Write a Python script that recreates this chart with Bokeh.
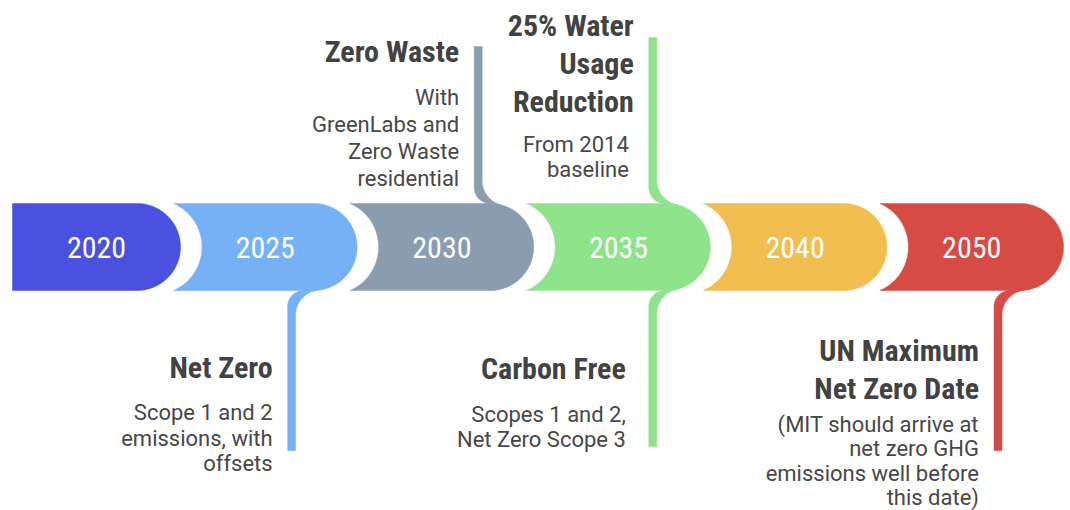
import math
from bokeh.plotting import figure
from bokeh.models import Range1d, ColumnDataSource
from bokeh.core.properties import value
from bokeh.embed import file_html
from bokeh.resources import INLINE

# ---------------- data ----------------
years = ["2020", "2025", "2030", "2035", "2040", "2050"]
band_colors = ["#4A51DF", "#76B1F6", "#8A9DB0", "#8FE38B", "#F1BE4F", "#D64C45"]

milestone_years = ["2025", "2030", "2035", "2035", "2050"]
milestone_sides = ["below", "above", "above", "below", "below"]
milestone_titles = [
    ["Net Zero"],
    ["Zero Waste"],
    ["25% Water", "Usage", "Reduction"],
    ["Carbon Free"],
    ["UN Maximum", "Net Zero Date"],
]
milestone_notes = [
    ["Scope 1 and 2", "emissions, with", "offsets"],
    ["With", "GreenLabs and", "Zero Waste", "residential"],
    ["From 2014", "baseline"],
    ["Scopes 1 and 2,", "Net Zero Scope 3"],
    ["(MIT should arrive at", "net zero GHG", "emissions well before", "this date)"],
]

# ---------------- layout (pixels of the page) ----------------
W, H = 1070, 510
BAND_TOP, BAND_BOT = 203.0, 290.0
YC = (BAND_TOP + BAND_BOT) / 2
HH = (BAND_BOT - BAND_TOP) / 2
X0, FIRST_RIGHT, PITCH = 12.0, 180.0, 176.6
OVERLAP, GAP = 7.0, 21.5
LINE_W, RO, RF = 8.0, 16.0, 25.0
TITLE_DY = 38.0
TITLE_SIZE, BODY_SIZE, YEAR_SIZE = 30, 22, 30
BASE_ADJ = 0.4   # baseline correction (fraction of font size) for the SVG text placement

# per milestone: connector offset from cap centre, line end, title baseline, note baseline,
# note spacing, title gap and note gap to the connector
ms_layout = [
    dict(dx=-22, end=450, ty=379, ny=421, ndy=25.5, gap=15, ngap=15),
    dict(dx=-12, end=46, ty=63, ny=106, ndy=27.0, gap=15, ngap=15),
    dict(dx=-14, end=37, ty=37, ny=153, ndy=25.0, gap=15, ngap=20),
    dict(dx=-14, end=446, ty=380, ny=423, ndy=25.0, gap=23, ngap=23),
    dict(dx=-22, end=450, ty=361.7, ny=432.5, ndy=24.4, gap=15, ngap=15),
]

COND = "Roboto Condensed, Fira Sans Condensed, Liberation Sans Narrow, DejaVu Sans Condensed, Roboto"
BODY = "Roboto"

p = figure(width=W, height=H, x_range=Range1d(0, W), y_range=Range1d(H, 0),
           output_backend="svg", toolbar_location=None, min_border=0,
           x_axis_location=None, y_axis_location=None)
p.grid.visible = False
p.outline_line_color = None
p.background_fill_color = "white"
p.border_fill_color = "white"


def arc(cx, cy, r, a0, a1, n=48):
    return [(cx + r * math.cos(a0 + (a1 - a0) * k / n),
             cy + r * math.sin(a0 + (a1 - a0) * k / n)) for k in range(n + 1)]


n = len(years)
rights = [FIRST_RIGHT + i * PITCH for i in range(n)]
lefts = [X0] + [r - OVERLAP for r in rights[:-1]]

seg_xs, seg_ys = [], []
for i in range(n):
    L, R = lefts[i], rights[i]
    rc = R - HH
    pts = []
    if i == 0:
        pts += [(L, BAND_BOT), (L, BAND_TOP)]
    else:
        d = rights[i - 1] + GAP - L
        rho = (d * d + HH * HH) / (2 * d)
        cx = rights[i - 1] + GAP - rho
        ab = math.atan2(HH, L - cx)
        pts += arc(cx, YC, rho, ab, -ab)
    pts += [(rc, BAND_TOP)]
    pts += arc(rc, YC, HH, -math.pi / 2, math.pi / 2)
    seg_xs.append([q[0] for q in pts])
    seg_ys.append([q[1] for q in pts])

p.patches(seg_xs, seg_ys, fill_color=band_colors, line_color=band_colors, line_width=0.5)

# connectors
con_xs, con_ys, con_cols = [], [], []
t_x, t_y, t_s = [], [], []
n_x, n_y, n_s = [], [], []
for m in range(len(milestone_years)):
    seg = years.index(milestone_years[m])
    lay = ms_layout[m]
    below = milestone_sides[m] == "below"
    sgn = 1 if below else -1
    rc = rights[seg] - HH
    xc = rc + lay["dx"]
    xw, xe = xc - LINE_W / 2, xc + LINE_W / 2
    edge = BAND_BOT if below else BAND_TOP
    cxo, cyo = xw + RO, edge + sgn * RO
    west = arc(cxo, cyo, RO, math.pi, math.pi + sgn * math.pi / 2)
    cxf = xe + RF
    dist = RF + HH
    cyf = YC + sgn * math.sqrt(dist ** 2 - (cxf - rc) ** 2)
    ux, uy = (rc - cxf) / dist, (YC - cyf) / dist
    T = (cxf + RF * ux, cyf + RF * uy)
    Tin = (T[0] + 6 * ux, T[1] + 6 * uy)
    a0 = math.atan2(uy, ux)
    a1 = math.pi if a0 > 0 else -math.pi
    fil = arc(cxf, cyf, RF, a0, a1)
    pts = [(xw, lay["end"])] + west + [Tin] + fil + [(xe, lay["end"])]
    con_xs.append([q[0] for q in pts])
    con_ys.append([q[1] for q in pts])
    con_cols.append(band_colors[seg])

    for k, s in enumerate(milestone_titles[m]):
        t_x.append(xw - lay["gap"])
        t_y.append(lay["ty"] + k * TITLE_DY - BASE_ADJ * TITLE_SIZE)
        t_s.append(s)
    for k, s in enumerate(milestone_notes[m]):
        n_x.append(xw - lay["ngap"])
        n_y.append(lay["ny"] + k * lay["ndy"] - BASE_ADJ * BODY_SIZE)
        n_s.append(s)

p.patches(con_xs, con_ys, fill_color=con_cols, line_color=con_cols, line_width=0.5)

# year labels
yl = ColumnDataSource(dict(x=[(lefts[i] + rights[i]) / 2 for i in range(n)],
                           y=[YC + 12 - BASE_ADJ * YEAR_SIZE for _ in range(n)], text=years))
p.text(x="x", y="y", text="text", source=yl, text_align="center",
       text_baseline="alphabetic", text_color="white",
       text_font=value(COND), text_font_size=f"{YEAR_SIZE}px")

p.text(x=t_x, y=t_y, text=t_s, text_align="right", text_baseline="alphabetic",
       text_color="#424242", text_font=value(COND), text_font_style="bold",
       text_font_size=f"{TITLE_SIZE}px")
p.text(x=n_x, y=n_y, text=n_s, text_align="right", text_baseline="alphabetic",
       text_color="#474747", text_font=value(BODY), text_font_size=f"{BODY_SIZE}px")

open("out.html", "w").write(file_html(p, INLINE))
